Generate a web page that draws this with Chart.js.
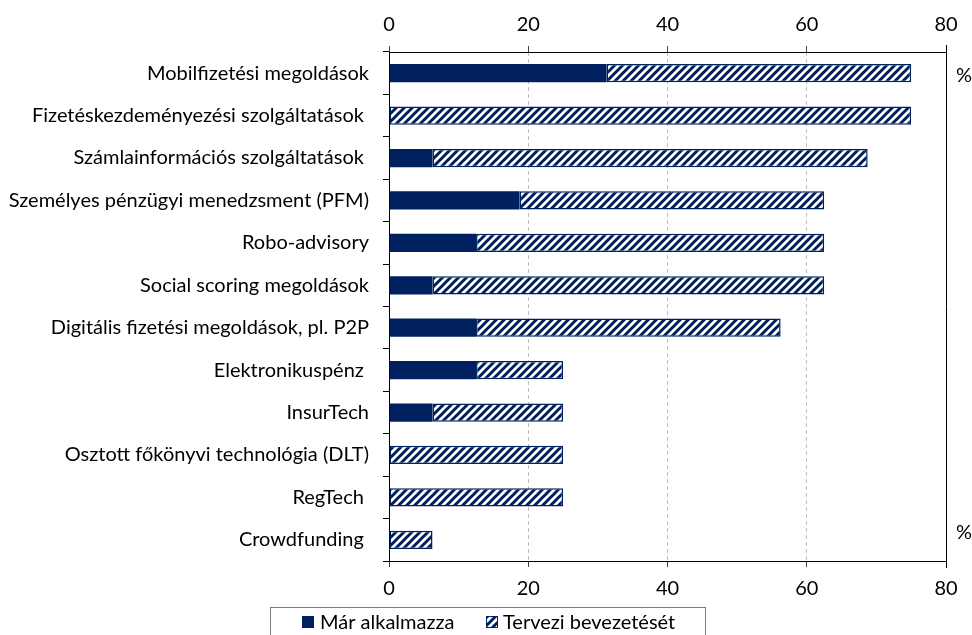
<!DOCTYPE html>
<html>
<head>
<meta charset="utf-8">
<script src="https://cdn.jsdelivr.net/npm/chart.js@4/dist/chart.umd.min.js"></script>
<style>
html,body{margin:0;padding:0;background:#fff;}
#wrap{width:972px;height:635px;}
</style>
</head>
<body>
<div id="wrap"><canvas id="c" width="972" height="635"></canvas></div>
<script>
const categories = [
  "Mobilfizetési megoldások",
  "Fizetéskezdeményezési szolgáltatások ",
  "Számlainformációs szolgáltatások ",
  "Személyes pénzügyi menedzsment (PFM)",
  "Robo-advisory",
  "Social scoring megoldások",
  "Digitális fizetési megoldások, pl. P2P",
  "Elektronikuspénz ",
  "InsurTech",
  "Osztott főkönyvi technológia (DLT)",
  "RegTech ",
  "Crowdfunding "
];
const seriesNames = ["Már alkalmazza", "Tervezi bevezetését"];
const alreadyUsing = [31.25, 0, 6.25, 18.75, 12.5, 6.25, 12.5, 12.5, 6.25, 0, 0, 0];
const planning =     [43.75, 75, 62.5, 43.75, 50, 56.25, 43.75, 12.5, 18.75, 25, 25, 6.25];
const xTicks = [0, 20, 40, 60, 80];
const unitLabel = "%";

const NAVY = '#002060';
const FONT = 'Lato, "Open Sans", sans-serif';
const FS = 20;

function makeHatch() {
  const s = 8;
  const p = document.createElement('canvas');
  p.width = s; p.height = s;
  const g = p.getContext('2d');
  g.fillStyle = '#ffffff';
  g.fillRect(0, 0, s, s);
  g.strokeStyle = NAVY;
  g.lineWidth = 3;
  g.beginPath();
  g.moveTo(-2, s + 2); g.lineTo(s + 2, -2);
  g.moveTo(-2 - s, s + 2); g.lineTo(2, -2);
  g.moveTo(s - 2, s + 2); g.lineTo(2 * s + 2, -2);
  g.stroke();
  return document.getElementById('c').getContext('2d').createPattern(p, 'repeat');
}
const hatch = makeHatch();

const extras = {
  id: 'extras',
  afterDraw(chart) {
    const ctx = chart.ctx;
    const a = chart.chartArea;
    ctx.save();
    // right frame line
    ctx.strokeStyle = '#000';
    ctx.lineWidth = 1;
    ctx.beginPath();
    ctx.moveTo(Math.round(a.right) + 0.5, a.top - 7);
    ctx.lineTo(Math.round(a.right) + 0.5, a.bottom + 7);
    ctx.stroke();
    // % labels
    ctx.fillStyle = '#000';
    ctx.font = FS + 'px ' + FONT;
    ctx.textAlign = 'center';
    ctx.textBaseline = 'middle';
    ctx.fillText(unitLabel, 964, 76);
    ctx.fillText(unitLabel, 964, 533);
    // legend
    ctx.strokeStyle = '#7f7f7f';
    ctx.lineWidth = 1;
    ctx.strokeRect(270.5, 607.5, 435, 40);
    ctx.fillStyle = NAVY;
    ctx.fillRect(302, 616, 12, 12);
    ctx.fillStyle = hatch;
    ctx.fillRect(486, 616, 12, 12);
    ctx.strokeStyle = NAVY;
    ctx.strokeRect(486.5, 616.5, 11, 11);
    ctx.fillStyle = '#000';
    ctx.textAlign = 'left';
    ctx.font = FS + 'px ' + FONT;
    ctx.fillText(seriesNames[0], 320, 623);
    ctx.fillText(seriesNames[1], 503, 623);
    ctx.restore();
  }
};

const gridColor = (c) => (c.tick && (c.tick.value === 0 || c.tick.value === 80)) ? 'rgba(0,0,0,0)' : '#bfbfbf';

new Chart(document.getElementById('c'), {
  type: 'bar',
  data: {
    labels: categories,
    datasets: [
      { label: seriesNames[0], data: alreadyUsing, backgroundColor: NAVY, borderColor: NAVY, borderWidth: 0, xAxisID: 'x', barPercentage: 0.43, categoryPercentage: 1 },
      { label: seriesNames[1], data: planning, backgroundColor: hatch, borderColor: NAVY, borderWidth: 1.5, borderSkipped: false, xAxisID: 'x', barPercentage: 0.43, categoryPercentage: 1 }
    ]
  },
  options: {
    indexAxis: 'y',
    responsive: false,
    animation: false,
    layout: { padding: { left: 0, right: 26, top: 0, bottom: 0 } },
    plugins: { legend: { display: false }, tooltip: { enabled: false } },
    scales: {
      x: {
        position: 'bottom', stacked: true, min: 0, max: 80,
        afterBuildTicks: (s) => { s.ticks = xTicks.map(v => ({ value: v })); },
        afterFit: (s) => { s.height = 74; },
        ticks: { color: '#000', font: { size: FS, family: FONT }, padding: 10, maxRotation: 0 },
        grid: { color: gridColor, tickColor: '#404040', tickLength: 6, drawOnChartArea: true },
        border: { display: true, color: '#000', width: 1, dash: [4, 3] }
      },
      x2: {
        position: 'top', min: 0, max: 80,
        afterBuildTicks: (s) => { s.ticks = xTicks.map(v => ({ value: v })); },
        afterFit: (s) => { s.height = 52; },
        ticks: { color: '#000', font: { size: FS, family: FONT }, padding: 9, maxRotation: 0 },
        grid: { drawOnChartArea: false, tickColor: '#404040', tickLength: 6 },
        border: { display: true, color: '#000', width: 1 }
      },
      y: {
        stacked: true,
        afterFit: (s) => { s.width = 389; },
        ticks: { color: '#000', font: { size: FS, family: FONT }, padding: 14, autoSkip: false },
        grid: { drawOnChartArea: false, offset: true, tickColor: '#000', tickLength: 6 },
        border: { display: true, color: '#000', width: 1 }
      }
    }
  },
  plugins: [extras]
});
</script>
</body>
</html>
